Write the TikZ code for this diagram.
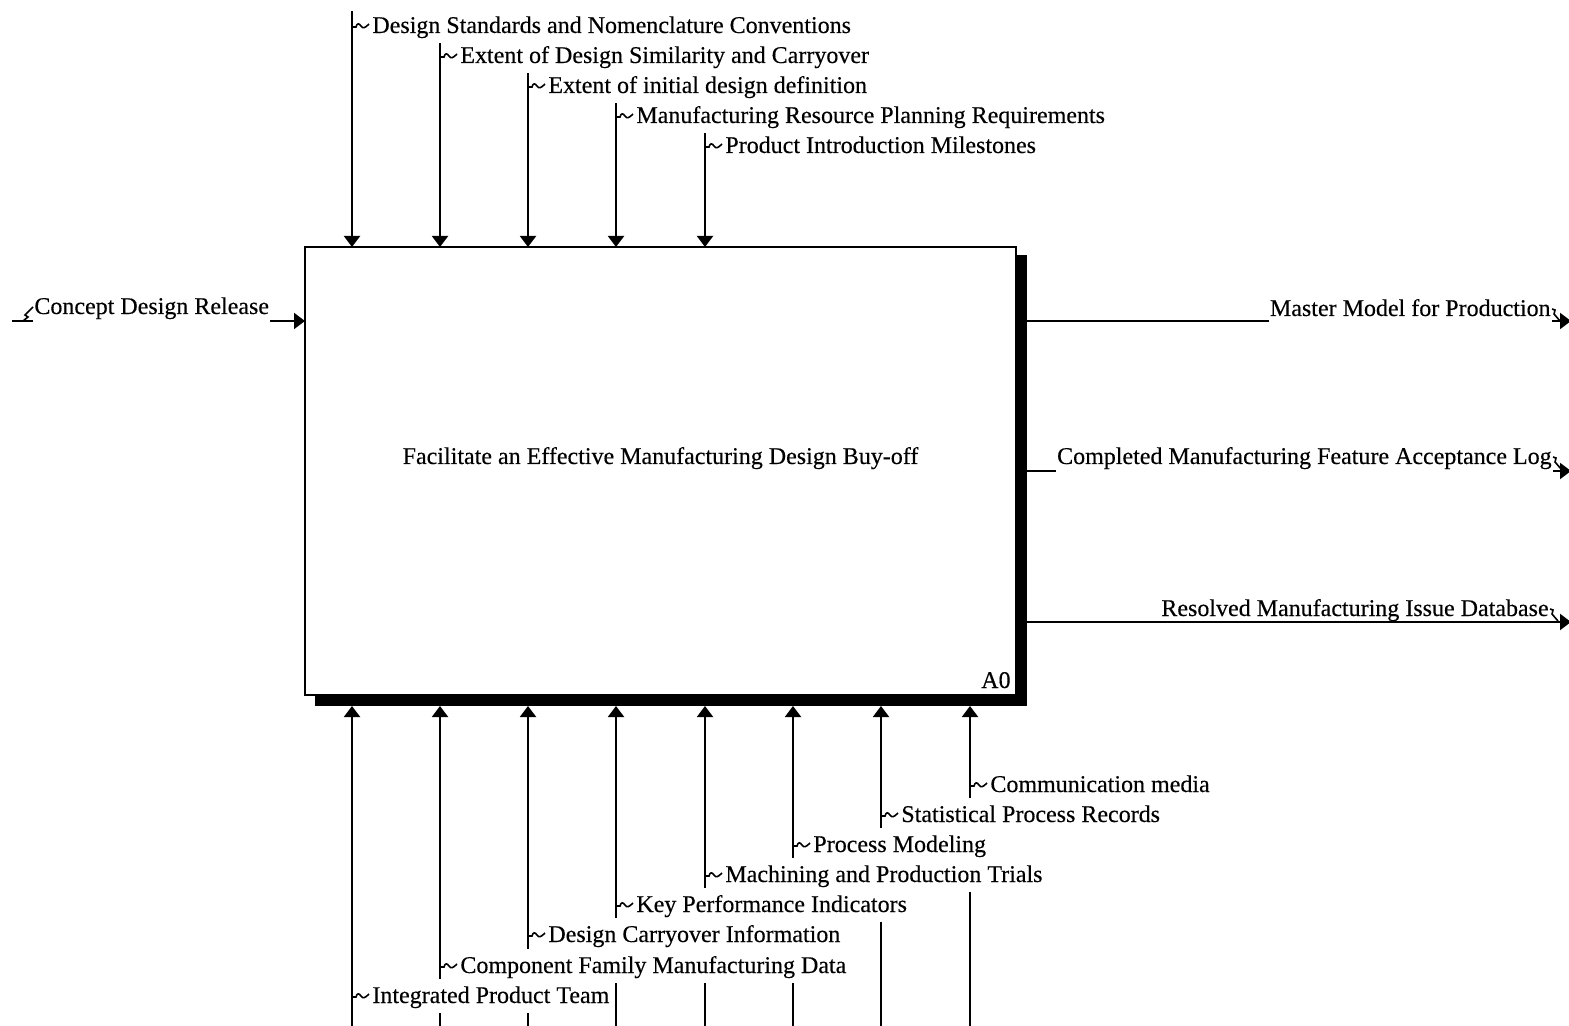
\documentclass[tikz,border=0pt]{standalone}
\usepackage{fontspec}
\setmainfont{Liberation Serif}[FakeBold=0.3]
\usetikzlibrary{arrows.meta}
\tikzset{
  conn/.style={line width=1pt, -{Triangle[length=5.5pt,width=8pt]}},
  txt/.style={font=\fontsize{12pt}{14pt}\selectfont, inner sep=0pt},
  lbl/.style={txt, anchor=base west, fill=white, inner xsep=0.5pt,
    text height=12pt, text depth=5pt},
  rlbl/.style={lbl, anchor=base east},
  squigline/.style={line width=0.8pt},
  pics/squig/.style={code={
    \draw[squigline] (0,0) -- (4,0) .. controls (5,-4) and (7,-4) .. (9,-1)
      .. controls (11,2) and (13,1) .. (17,-3);}}
}
\begin{document}
\begin{tikzpicture}[x=0.5pt,y=-0.5pt]
\useasboundingbox (0,0) rectangle (1569,1026);

% activity box with its drop shadow
\node (SH) [fill=black, minimum width=356pt, minimum height=225.5pt,
  inner sep=0pt, outer sep=0pt] at (671,480.5) {};
\node (A0) [draw, line width=1pt, fill=white, minimum width=355.5pt,
  minimum height=224pt, inner sep=0pt, outer sep=0pt] at (660.5,471) {};
\node (ttl) [txt, anchor=base] at (660.5,464)
  {Facilitate an Effective Manufacturing Design Buy-off};
\node (num) [txt, anchor=base east] at (1011,688) {A0};

% controls (top)
\foreach \n/\x in {c1/352, c2/440, c3/528, c4/616, c5/705} {
  \coordinate (\n) at (\x,11);
  \draw[conn] (\n) -- (\n |- A0.north);
}
% mechanisms (bottom)
\foreach \n/\x in {m1/352, m2/440, m3/528, m4/616, m5/705, m6/793, m7/881, m8/970} {
  \coordinate (\n) at (\x,1026);
  \draw[conn] (\n) -- (\n |- SH.south);
}
% input
\coordinate (i1) at (12,321);
\draw[conn] (i1) -- (i1 -| A0.west);
% outputs
\foreach \n/\y in {o1/321, o2/471, o3/622} {
  \coordinate (\n) at (1571,\y);
  \draw[conn] (\n -| SH.east) -- (\n);
}

% control labels
\foreach \n/\x/\b/\t in {
  c1/352/33/{Design Standards and Nomenclature Conventions},
  c2/440/63/{Extent of Design Similarity and Carryover},
  c3/528/93/{Extent of initial design definition},
  c4/616/123/{Manufacturing Resource Planning Requirements},
  c5/705/153/{Product Introduction Milestones}} {
  \node (\n l) [lbl] at (\x+19,\b) {\t};
  \pic at (\x,\b-6) {squig};
}
% mechanism labels
\foreach \n/\x/\b/\t in {
  m8/970/792/{Communication media},
  m7/881/822/{Statistical Process Records},
  m6/793/852/{Process Modeling},
  m5/705/882/{Machining and Production Trials},
  m4/616/912/{Key Performance Indicators},
  m3/528/942/{Design Carryover Information},
  m2/440/973/{Component Family Manufacturing Data},
  m1/352/1003/{Integrated Product Team}} {
  \node (\n l) [lbl] at (\x+19,\b) {\t};
  \pic at (\x,\b-6) {squig};
}

% input label
\node (i1l) [lbl] at (33,314) {Concept Design Release};
\draw[squigline] (23,321) -- (28,317) -- (25,315) -- (i1l.west);

% output labels
\node (o1l) [rlbl] at (1552,316) {Master Model for Production};
\node (o2l) [rlbl] at (1553,464) {Completed Manufacturing Feature Acceptance Log};
\node (o3l) [rlbl, fill=none] at (1550,616) {Resolved Manufacturing Issue Database};
\foreach \n in {o1, o2, o3} {
  \draw[squigline] (\n l.east) -- ++(3,1) -- ++(-1,4) -- ++(6,7);
}
\end{tikzpicture}
\end{document}
